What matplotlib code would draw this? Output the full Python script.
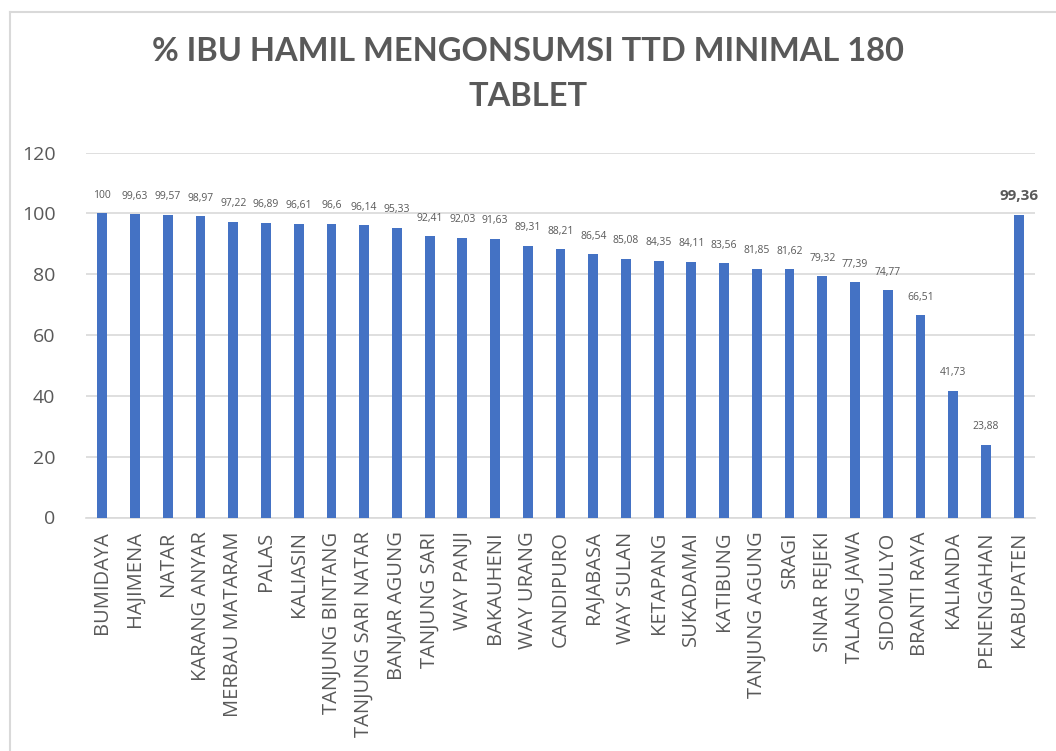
import matplotlib
matplotlib.use("Agg")
import matplotlib.pyplot as plt
from matplotlib.lines import Line2D

categories = ["BUMIDAYA", "HAJIMENA", "NATAR", "KARANG ANYAR", "MERBAU MATARAM", "PALAS",
              "KALIASIN", "TANJUNG BINTANG", "TANJUNG SARI NATAR", "BANJAR AGUNG",
              "TANJUNG SARI", "WAY PANJI", "BAKAUHENI", "WAY URANG", "CANDIPURO",
              "RAJABASA", "WAY SULAN", "KETAPANG", "SUKADAMAI", "KATIBUNG",
              "TANJUNG AGUNG", "SRAGI", "SINAR REJEKI", "TALANG JAWA", "SIDOMULYO",
              "BRANTI RAYA", "KALIANDA", "PENENGAHAN", "KABUPATEN"]
values = [100, 99.63, 99.57, 98.97, 97.22, 96.89, 96.61, 96.6, 96.14, 95.33,
          92.41, 92.03, 91.63, 89.31, 88.21, 86.54, 85.08, 84.35, 84.11, 83.56,
          81.85, 81.62, 79.32, 77.39, 74.77, 66.51, 41.73, 23.88, 99.36]
labels = ["100", "99,63", "99,57", "98,97", "97,22", "96,89", "96,61", "96,6", "96,14", "95,33",
          "92,41", "92,03", "91,63", "89,31", "88,21", "86,54", "85,08", "84,35", "84,11", "83,56",
          "81,85", "81,62", "79,32", "77,39", "74,77", "66,51", "41,73", "23,88", "99,36"]
title = "% IBU HAMIL MENGONSUMSI TTD MINIMAL 180\nTABLET"
yticks = [0, 20, 40, 60, 80, 100, 120]

W, H = 1056, 751
fig = plt.figure(figsize=(W / 100, H / 100), dpi=100)
fig.patch.set_facecolor("white")

left, right, top, bottom = 86, 1035, 152.5, 517.5
ax = fig.add_axes([left / W, 1 - bottom / H, (right - left) / W, (bottom - top) / H])

text_col = "#595959"
grid_col = "#d9d9d9"
bar_col = "#4472C4"
font = "Open Sans"

x = list(range(len(categories)))
ax.bar(x, values, width=0.3, color=bar_col, zorder=3)
ax.set_xlim(-0.5, len(categories) - 0.5)
ax.set_ylim(0, 120)
ax.set_yticks(yticks)
ax.set_yticklabels([str(v) for v in yticks], fontsize=14, color=text_col, family=font)
ax.set_xticks(x)
ax.set_xticklabels(categories, rotation=90, fontsize=14.5, color=text_col, family=font)
ax.tick_params(axis="both", length=0)
ax.tick_params(axis="y", pad=22)
ax.tick_params(axis="x", pad=10)
ax.grid(axis="y", color=grid_col, linewidth=1.2, zorder=0)
for s in ["top", "right", "left"]:
    ax.spines[s].set_visible(False)
ax.spines["bottom"].set_color(grid_col)
ax.spines["bottom"].set_linewidth(1.2)

for i, (v, lab) in enumerate(zip(values, labels)):
    last = i == len(values) - 1
    ax.annotate(lab, (i, v), xytext=(0, 14 if last else 13), textcoords="offset points",
                ha="center", va="center", fontsize=11 if last else 7.5,
                fontweight="bold" if last else "normal", color=text_col, family=font)

fig.text(0.5, 1 - 74 / H, title, ha="center", va="center", fontsize=23.5,
         fontweight="bold", color=text_col, family="Lato", linespacing=1.65)

# chart-area border (top and left visible)
fig.add_artist(Line2D([10 / W, 1], [1 - 12 / H, 1 - 12 / H], color=grid_col, lw=1.5,
                      transform=fig.transFigure))
fig.add_artist(Line2D([10 / W, 10 / W], [1 - 12 / H, 0], color=grid_col, lw=1.5,
                      transform=fig.transFigure))

fig.savefig("out.png", dpi=100, facecolor="white")
